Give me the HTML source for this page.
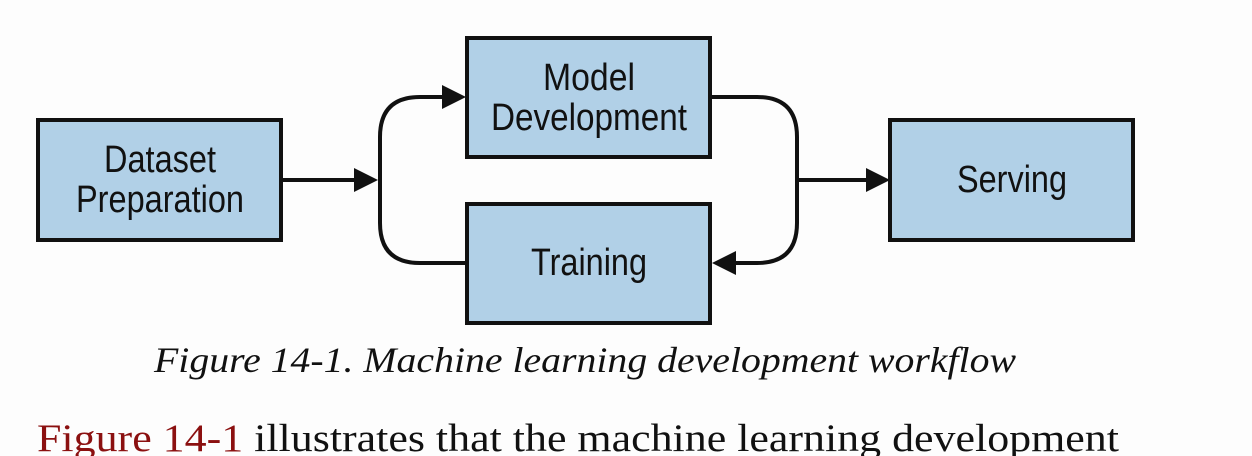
<!DOCTYPE html>
<html><head><meta charset="utf-8"><style>
html,body{margin:0;padding:0;background:#fdfdfd;width:1252px;height:456px;overflow:hidden}
.b{font-family:"Liberation Sans Narrow","Liberation Sans",sans-serif}
.s{font-family:"Liberation Serif","Times New Roman",serif}
</style></head><body>
<svg width="1252" height="456" viewBox="0 0 1252 456" xmlns="http://www.w3.org/2000/svg">
<rect width="1252" height="456" fill="#fdfdfd"/>
<g fill="#b1d0e7" stroke="#111" stroke-width="4">
<rect x="38" y="120" width="243" height="120"/>
<rect x="467" y="38" width="243" height="119"/>
<rect x="467" y="204" width="243" height="119"/>
<rect x="890" y="120" width="243" height="120"/>
</g>
<g fill="none" stroke="#111" stroke-width="4">
<path d="M281 180 H358"/>
<path d="M445 97 H420 Q380 97 380 137 V223 Q380 263 420 263 H467"/>
<path d="M710 97 H757 Q797 97 797 137 V223 Q797 263 757 263 H732"/>
<path d="M797 180 H870"/>
</g>
<g fill="#111">
<polygon points="354,168 378,180 354,192"/>
<polygon points="442,85 466,97 442,109"/>
<polygon points="736,251 712,263 736,275"/>
<polygon points="866,168 890,180 866,192"/>
</g>
<g class="b" font-size="38" fill="#111" text-anchor="middle">
<text x="160" y="172" textLength="112" lengthAdjust="spacingAndGlyphs">Dataset</text>
<text x="160" y="212" textLength="168" lengthAdjust="spacingAndGlyphs">Preparation</text>
<text x="589" y="90" textLength="92" lengthAdjust="spacingAndGlyphs">Model</text>
<text x="589" y="130" textLength="196" lengthAdjust="spacingAndGlyphs">Development</text>
<text x="589" y="275" textLength="116" lengthAdjust="spacingAndGlyphs">Training</text>
<text x="1012" y="192" textLength="110" lengthAdjust="spacingAndGlyphs">Serving</text>
</g>
<text class="s" x="154" y="372" font-style="italic" font-size="36" fill="#111" textLength="862" lengthAdjust="spacingAndGlyphs">Figure 14-1. Machine learning development workflow</text>
<text class="s" x="37" y="451" font-size="39" fill="#111" textLength="1082" lengthAdjust="spacingAndGlyphs"><tspan fill="#8b1010">Figure 14-1</tspan> illustrates that the machine learning development</text>
</svg>
</body></html>
